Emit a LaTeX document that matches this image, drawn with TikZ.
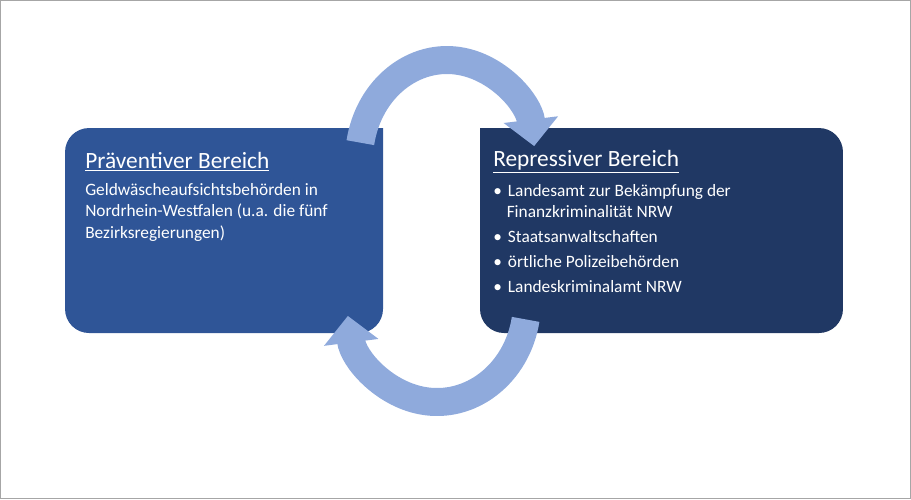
\documentclass[tikz,border=0pt]{standalone}
\usepackage{fontspec}
\setmainfont{Carlito}
\usetikzlibrary{arrows.meta, positioning}
\definecolor{praeblue}{HTML}{2F5597}
\definecolor{reprblue}{HTML}{203864}
\definecolor{circblue}{HTML}{8FAADC}
\tikzset{
  head/.style={anchor=north west, text=white, inner sep=0pt, font=\fontsize{17.5}{20}\selectfont},
  body/.style={anchor=north west, text=white, inner sep=0pt, align=left, font=\fontsize{13}{15.8}\selectfont},
  circarrow/.style={draw=circblue, line width=21pt, -{Triangle[length=20pt, width=40pt]}}
}
\begin{document}
\begin{tikzpicture}[x=0.75pt, y=-0.75pt]
		\draw[gray!70, line width=0.8pt] (0.5,0.5) rectangle (910.5,498.5);
		\useasboundingbox (0,0) rectangle (911,499);
		
		\fill[praeblue, rounded corners=18pt] (383,128) -- (65,128) -- (65,333) -- (383,333) [sharp corners] -- cycle;
		\fill[reprblue, rounded corners=18pt] (480,128) -- (843,128) -- (843,333) -- (480,333) [sharp corners] -- cycle;
		
		\draw[circarrow] (447,160) ++(-170:88 and 100) arc[start angle=-170, end angle=-8, x radius=88, y radius=100];
		\draw[circarrow] (437,302) ++(10:90 and 100) arc[start angle=10, end angle=172, x radius=90, y radius=100];
		
		\node[head] (praehead) at (85,152) {\underline{Präventiver Bereich}};
		\node[body, below=9pt of praehead.south west, anchor=north west] (praetext)
		  {Geldwäscheaufsichtsbehörden in\\Nordrhein-Westfalen (u.a. die fünf\\Bezirksregierungen)};
		
		\node[head] (reprhead) at (493,150) {\underline{Repressiver Bereich}};
		\node[body, below=8pt of reprhead.south west, anchor=north west] (reprtext)
		  {\textbullet\hspace{0.35em}Landesamt zur Bekämpfung der\\
		   \hspace*{0.78em}Finanzkriminalität NRW\\[3pt]
		   \textbullet\hspace{0.35em}Staatsanwaltschaften\\[3pt]
		   \textbullet\hspace{0.35em}örtliche Polizeibehörden\\[3pt]
		   \textbullet\hspace{0.35em}Landeskriminalamt NRW};
	\end{tikzpicture}
\end{document}
